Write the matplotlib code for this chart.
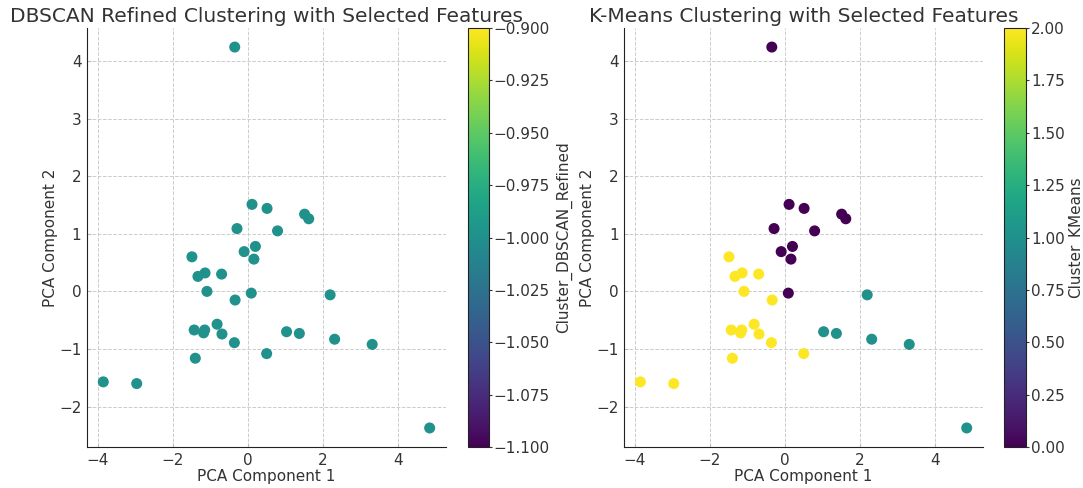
import matplotlib

matplotlib.use("Agg")
import matplotlib.pyplot as plt

# PCA coordinates
pc1 = [0.11, 0.51, 1.51, 1.62, -0.29, 0.79, 0.20, -0.10, 0.16, 0.09, -0.35,
       2.19, 1.03, 1.37, 2.31, 3.31, 4.84,
       -1.49, -1.14, -1.33, -0.70, -1.09, -0.34, -0.82, -1.43, -1.15, -1.18,
       -0.69, -0.36, 0.50, -1.40, -3.85, -2.96]
pc2 = [1.51, 1.44, 1.34, 1.26, 1.09, 1.05, 0.78, 0.69, 0.56, -0.03, 4.24,
       -0.06, -0.70, -0.73, -0.83, -0.92, -2.37,
       0.60, 0.32, 0.26, 0.30, 0.00, -0.15, -0.57, -0.67, -0.67, -0.72,
       -0.74, -0.89, -1.08, -1.16, -1.57, -1.60]
cluster_dbscan = [-1] * len(pc1)
cluster_kmeans = [0] * 11 + [1] * 6 + [2] * 16

TEXT = "#333333"
plt.rcParams.update({
    "font.family": "DejaVu Sans",
    "font.size": 11,
    "text.color": TEXT,
    "axes.labelcolor": TEXT,
    "xtick.color": TEXT,
    "ytick.color": TEXT,
    "axes.edgecolor": "#222222",
})

fig = plt.figure(figsize=(10.83, 4.88), dpi=100)
panels = [
    ([0.0803, 0.084, 0.3315, 0.8586], [0.4321, 0.084, 0.0194, 0.8586],
     cluster_dbscan, "DBSCAN Refined Clustering with Selected Features", "Cluster_DBSCAN_Refined", 4),
    ([0.5762, 0.084, 0.3315, 0.8586], [0.9271, 0.084, 0.0203, 0.8586],
     cluster_kmeans, "K-Means Clustering with Selected Features", "Cluster_KMeans", 2),
]

for ax_rect, cb_rect, labels, title, cb_label, cb_pad in panels:
    ax = fig.add_axes(ax_rect)
    cax = fig.add_axes(cb_rect)
    sc = ax.scatter(pc1, pc2, c=labels, cmap="viridis", s=48, zorder=3)
    ax.set_title(title, fontsize=14.5, color=TEXT, pad=4)
    ax.set_xlabel("PCA Component 1", labelpad=1)
    ax.set_ylabel("PCA Component 2", labelpad=1)
    ax.grid(True, linestyle="--", color="#cccccc", linewidth=0.7)
    ax.spines["top"].set_visible(False)
    ax.spines["right"].set_visible(False)
    ax.tick_params(direction="in", length=3, color="#bbbbbb", pad=4)
    cb = fig.colorbar(sc, cax=cax)
    cb.set_label(cb_label, labelpad=cb_pad)
    cb.ax.tick_params(length=2, pad=1.5)

fig.savefig("out.png", dpi=100)
plt.close(fig)
